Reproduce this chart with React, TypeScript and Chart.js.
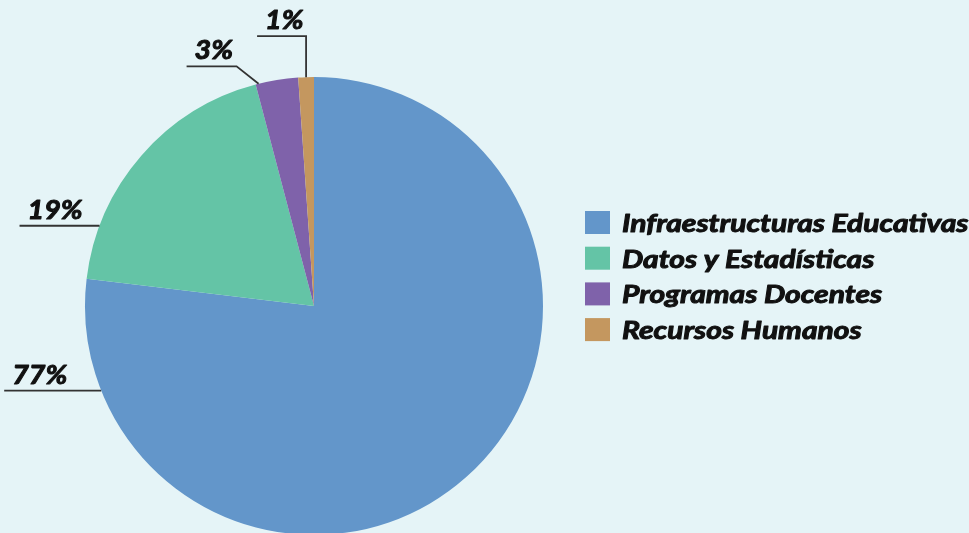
import React, { useEffect, useRef } from "react";
import { Chart, registerables } from "chart.js";

Chart.register(...registerables);

const categories = [
  "Infraestructuras Educativas",
  "Datos y Estadísticas",
  "Programas Docentes",
  "Recursos Humanos",
];
const values = [76.9, 19.0, 3.0, 1.1];
const percentLabels = ["77%", "19%", "3%", "1%"];
const colors = ["#6396ca", "#64c4a6", "#7f62aa", "#c4975f"];

const leaderLayout = [
  { frac: 0.897, edx: 0, edy: 0, len: 97 },
  { frac: 0.2, edx: 0, edy: 0, len: 80 },
  { frac: 0.07, edx: -22, edy: -17.5, len: 50 },
  { frac: 0.5, edx: 0, edy: -41, len: 49 },
];

function heavyText(ctx: CanvasRenderingContext2D, text: string, x: number, y: number, font: string, sx: number, stroke: number) {
  ctx.save();
  ctx.translate(x, y);
  ctx.scale(sx, 1);
  ctx.font = font;
  ctx.textAlign = "left";
  ctx.textBaseline = "alphabetic";
  ctx.fillStyle = "#111111";
  ctx.strokeStyle = "#111111";
  ctx.lineWidth = stroke;
  ctx.lineJoin = "round";
  ctx.fillText(text, 0, 0);
  ctx.strokeText(text, 0, 0);
  ctx.restore();
}

const labelPlugin = {
  id: "leaderLabels",
  afterDatasetsDraw(chart: any) {
    const ctx = chart.ctx;
    const meta = chart.getDatasetMeta(0);
    ctx.save();
    meta.data.forEach((arc: any, i: number) => {
      const { x, y, startAngle, endAngle, outerRadius } = arc.getProps(
        ["x", "y", "startAngle", "endAngle", "outerRadius"],
        true
      );
      const L = leaderLayout[i];
      const a = startAngle + (endAngle - startAngle) * L.frac;
      const px = x + outerRadius * Math.cos(a);
      const py = y + outerRadius * Math.sin(a);
      const ex = px + L.edx;
      const ey = py + L.edy;
      const sx = ex - L.len;
      ctx.strokeStyle = "#333333";
      ctx.lineWidth = 1.8;
      ctx.beginPath();
      ctx.moveTo(px, py);
      ctx.lineTo(ex, ey);
      ctx.lineTo(sx, ey);
      ctx.stroke();
      heavyText(ctx, percentLabels[i], sx + 8, ey - 7, "italic bold 26.5px Lato", 1.08, 1);
    });
    ctx.restore();
  },
};

const legendPlugin = {
  id: "customLegend",
  afterDraw(chart: any) {
    const ctx = chart.ctx;
    ctx.save();
    const labels = chart.data.labels as string[];
    const bg = chart.data.datasets[0].backgroundColor as string[];
    labels.forEach((lab, i) => {
      const top = 211 + i * 35.7;
      ctx.fillStyle = bg[i];
      ctx.fillRect(585, top, 25, 23);
      heavyText(ctx, lab, 622, top + 21, "italic bold 25px Lato", 1.2, 1);
    });
    ctx.restore();
  },
};

const bgPlugin = {
  id: "bg",
  beforeDraw(chart: any) {
    const ctx = chart.ctx;
    ctx.save();
    ctx.fillStyle = "#e5f4f7";
    ctx.fillRect(0, 0, chart.width, chart.height);
    ctx.restore();
  },
};

export default function App() {
  const ref = useRef<HTMLCanvasElement>(null);
  useEffect(() => {
    document.body.style.margin = "0";
    document.body.style.overflow = "hidden";
    const chart = new Chart(ref.current!, {
      type: "pie",
      data: {
        labels: categories,
        datasets: [
          {
            data: values,
            backgroundColor: colors,
            borderWidth: 0,
          },
        ],
      },
      options: {
        responsive: false,
        animation: false,
        devicePixelRatio: 1,
        layout: { padding: { left: 85, top: 77, right: 426, bottom: 5 } },
        plugins: { legend: { display: false }, tooltip: { enabled: false } },
      },
      plugins: [bgPlugin, labelPlugin, legendPlugin],
    });
    return () => chart.destroy();
  }, []);
  return (
    <div style={{ width: 969, height: 533, overflow: "hidden", position: "relative", background: "#e5f4f7" }}>
      <canvas ref={ref} width={969} height={540} style={{ display: "block" }} />
    </div>
  );
}
